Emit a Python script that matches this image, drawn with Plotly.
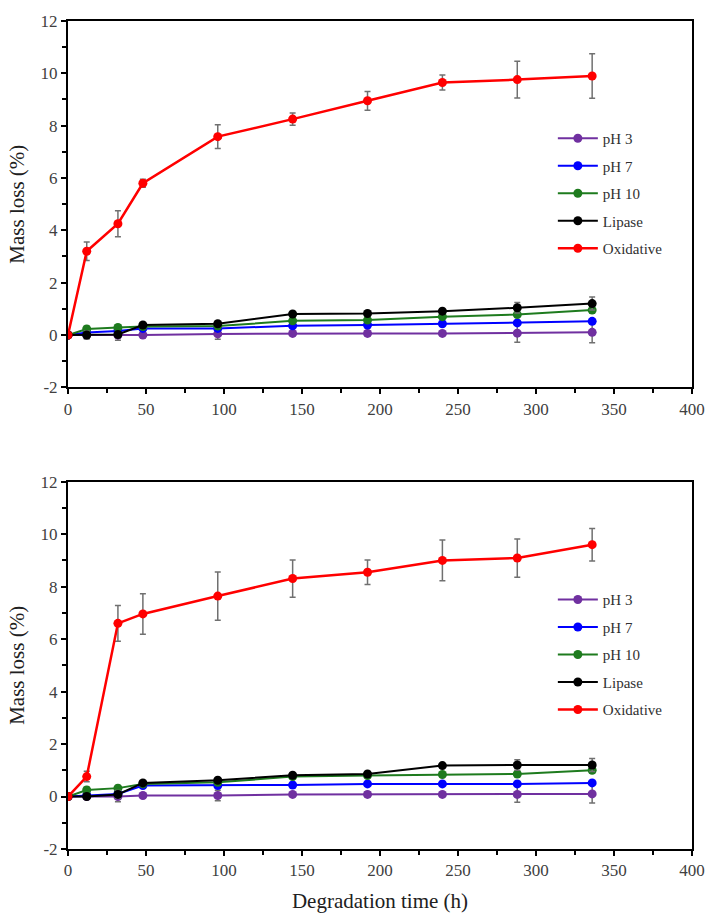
import plotly.graph_objects as go

time_h = [0, 12, 32, 48, 96, 144, 192, 240, 288, 336]
series_names = ["pH 3", "pH 7", "pH 10", "Lipase", "Oxidative"]
series_colors = ["#7030A0", "#0000FF", "#1E7B1E", "#000000", "#FF0000"]

# Top panel
top_ph3 = [0, 0.0, 0.0, 0.0, 0.04, 0.06, 0.06, 0.06, 0.07, 0.10]
top_ph3_err = [0, 0.1, 0.2, 0.05, 0.2, 0.08, 0.1, 0.08, 0.35, 0.4]
top_ph7 = [0, 0.09, 0.15, 0.25, 0.25, 0.35, 0.38, 0.43, 0.46, 0.52]
top_ph7_err = [0, 0.05, 0.05, 0.05, 0.05, 0.05, 0.05, 0.05, 0.05, 0.05]
top_ph10 = [0, 0.23, 0.29, 0.32, 0.34, 0.54, 0.57, 0.70, 0.78, 0.95]
top_ph10_err = [0, 0.1, 0.1, 0.05, 0.05, 0.05, 0.05, 0.05, 0.05, 0.1]
top_lipase = [0, 0.0, 0.02, 0.38, 0.43, 0.80, 0.82, 0.91, 1.04, 1.20]
top_lipase_err = [0, 0.15, 0.1, 0.05, 0.05, 0.05, 0.05, 0.05, 0.2, 0.25]
top_oxid = [0, 3.2, 4.25, 5.8, 7.58, 8.25, 8.95, 9.65, 9.76, 9.9]
top_oxid_err = [0, 0.35, 0.5, 0.15, 0.45, 0.23, 0.36, 0.29, 0.7, 0.85]

# Bottom panel
bot_ph3 = [0, 0.0, 0.0, 0.04, 0.04, 0.08, 0.08, 0.08, 0.08, 0.10]
bot_ph3_err = [0, 0.1, 0.2, 0.05, 0.2, 0.05, 0.1, 0.08, 0.3, 0.35]
bot_ph7 = [0, 0.04, 0.10, 0.42, 0.42, 0.44, 0.48, 0.48, 0.48, 0.52]
bot_ph7_err = [0, 0.05, 0.05, 0.05, 0.05, 0.05, 0.05, 0.05, 0.05, 0.05]
bot_ph10 = [0, 0.25, 0.32, 0.48, 0.54, 0.76, 0.80, 0.84, 0.86, 1.00]
bot_ph10_err = [0, 0.1, 0.1, 0.05, 0.05, 0.05, 0.05, 0.05, 0.05, 0.1]
bot_lipase = [0, 0.0, 0.08, 0.52, 0.62, 0.81, 0.86, 1.18, 1.20, 1.20]
bot_lipase_err = [0, 0.1, 0.15, 0.05, 0.05, 0.05, 0.05, 0.05, 0.2, 0.25]
bot_oxid = [0, 0.76, 6.6, 6.96, 7.64, 8.31, 8.55, 9.0, 9.09, 9.6]
bot_oxid_err = [0, 0.2, 0.68, 0.77, 0.92, 0.71, 0.47, 0.78, 0.73, 0.62]

top_vals = [(top_ph3, top_ph3_err), (top_ph7, top_ph7_err), (top_ph10, top_ph10_err),
            (top_lipase, top_lipase_err), (top_oxid, top_oxid_err)]
bot_vals = [(bot_ph3, bot_ph3_err), (bot_ph7, bot_ph7_err), (bot_ph10, bot_ph10_err),
            (bot_lipase, bot_lipase_err), (bot_oxid, bot_oxid_err)]

x_ticks = [0, 50, 100, 150, 200, 250, 300, 350, 400]
y_ticks = [-2, 0, 2, 4, 6, 8, 10, 12]
y_tick_labels = ["-2", "0", "2", "4", "6", "8", "10", "12"]

FONT = "Liberation Serif"

fig = go.Figure()

for panel, vals, xa, ya, leg in [(0, top_vals, "x", "y", "legend"), (1, bot_vals, "x2", "y2", "legend2")]:
    for i, (name, color) in enumerate(zip(series_names, series_colors)):
        y, err = vals[i]
        fig.add_trace(go.Scatter(
            x=time_h, y=y, name=name, mode="lines+markers",
            line=dict(color=color, width=2.5 if name == "Oxidative" else 2),
            marker=dict(color=color, size=9),
            error_y=dict(type="data", array=err, visible=True, color="#707070",
                         thickness=1.5, width=3),
            xaxis=xa, yaxis=ya, legend=leg, legendgroup=f"{panel}_{i}",
        ))

axis_common = dict(
    showline=True, linecolor="black", linewidth=2, mirror=True,
    ticks="outside", ticklen=5, tickwidth=2, tickcolor="black",
    showgrid=False, zeroline=False,
    tickfont=dict(family=FONT, size=17, color="#404040"),
)
xcommon = dict(axis_common, range=[0, 400], tickvals=x_ticks,
               minor=dict(ticks="outside", ticklen=4, tickwidth=2, tickcolor="black", dtick=25, tick0=0))
ycommon = dict(axis_common, range=[-2, 12], tickvals=y_ticks, ticktext=y_tick_labels,
               minor=dict(ticks="outside", ticklen=4, tickwidth=2, tickcolor="black", dtick=1, tick0=0))

legend_common = dict(
    font=dict(family=FONT, size=15, color="#303030"),
    bgcolor="rgba(0,0,0,0)", tracegroupgap=5, itemwidth=40,
    xanchor="left", yanchor="top",
)

title_font = dict(family=FONT, size=21, color="#202020")

fig.update_layout(
    width=717, height=921,
    margin=dict(l=68, r=21, t=16, b=71),
    paper_bgcolor="white", plot_bgcolor="white",
    font=dict(family=FONT, color="#202020"),
    xaxis=dict(xcommon, domain=[0, 1], anchor="y"),
    yaxis=dict(ycommon, domain=[0.5576, 1.0], anchor="x",
               title=dict(text="Mass loss (%)", font=title_font, standoff=10)),
    xaxis2=dict(xcommon, domain=[0, 1], anchor="y2",
                title=dict(text="Degradation time (h)", font=title_font, standoff=14)),
    yaxis2=dict(ycommon, domain=[0, 0.4436], anchor="x2",
                title=dict(text="Mass loss (%)", font=title_font, standoff=10)),
    legend=dict(legend_common, x=0.777, y=0.878),
    legend2=dict(legend_common, x=0.777, y=0.321),
    showlegend=True,
)

fig.write_html("out.html")
